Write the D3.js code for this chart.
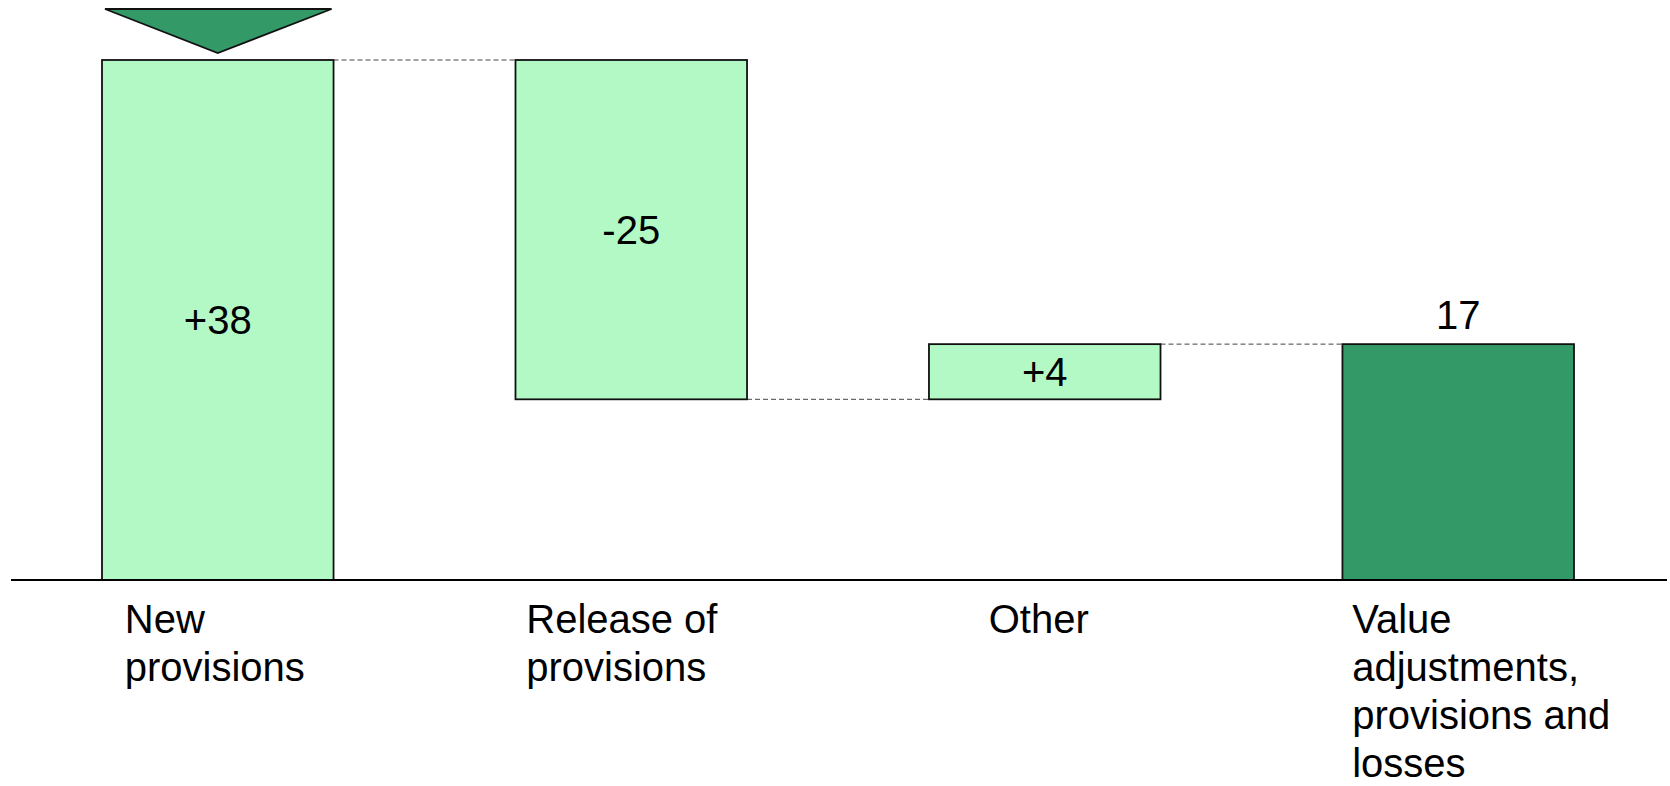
<!DOCTYPE html>
<html lang="en">
<head>
<meta charset="utf-8">
<title>Value adjustments waterfall</title>
<script src="https://d3js.org/d3.v7.min.js"></script>
<style>
body {
  margin: 0;
  background: #fff;
  font-family: "Liberation Sans", Arial, Helvetica, sans-serif;
}
</style>
</head>
<body>
<div id="chart"></div>
<script>
// data
var categories = ["New provisions", "Release of provisions", "Other", "Value adjustments, provisions and losses"];
var categoryLines = [["New", "provisions"], ["Release of", "provisions"], ["Other"], ["Value", "adjustments,", "provisions and", "losses"]];
var steps = [37.7, -24.6, 4.0];          // increments
var valueLabels = ["+38", "-25", "+4", "17"];

var lightGreen = "#b3f9c5",
    darkGreen = "#339966";

var W = 1670, H = 786;
var baseY = 580, topY = 60;

// build the waterfall rows
var rows = [], run = 0;
steps.forEach(function(v, i) {
  var start = run;
  run += v;
  rows.push({cat: categories[i], lo: Math.min(start, run), hi: Math.max(start, run), end: run, total: false, label: valueLabels[i]});
});
rows.push({cat: categories[3], lo: 0, hi: run, end: run, total: true, label: valueLabels[3]});

var svg = d3.select("#chart").append("svg")
    .attr("width", W)
    .attr("height", H);

var x = d3.scaleBand()
    .domain(categories)
    .range([102, 1574])
    .paddingInner(0.44)
    .paddingOuter(0);

var y = d3.scaleLinear()
    .domain([0, d3.max(rows, function(d) { return d.hi; })])
    .range([baseY, topY]);

var bw = x.bandwidth();

// dashed connectors between bars
for (var i = 0; i < rows.length - 1; i++) {
  svg.append("line")
    .attr("x1", x(rows[i].cat) + bw)
    .attr("x2", x(rows[i + 1].cat))
    .attr("y1", y(rows[i].end))
    .attr("y2", y(rows[i].end))
    .style("stroke", "#444")
    .style("stroke-width", 1)
    .style("stroke-dasharray", "5,3");
}

// bars
svg.selectAll("rect.bar")
  .data(rows)
  .enter()
  .append("rect")
    .attr("class", "bar")
    .attr("x", function(d) { return x(d.cat); })
    .attr("y", function(d) { return y(d.hi); })
    .attr("width", bw)
    .attr("height", function(d) { return y(d.lo) - y(d.hi); })
    .style("fill", function(d) { return d.total ? darkGreen : lightGreen; })
    .style("stroke", "#111")
    .style("stroke-width", 1.8);

// baseline
svg.append("line")
  .attr("x1", 11)
  .attr("x2", 1667)
  .attr("y1", y(0))
  .attr("y2", y(0))
  .style("stroke", "#000")
  .style("stroke-width", 2);

// marker triangle over the first bar
var x0 = x(categories[0]);
svg.append("path")
  .attr("d", "M" + (x0 + 3) + "," + (y(rows[0].hi) - 51) +
             "L" + (x0 + bw - 2) + "," + (y(rows[0].hi) - 51) +
             "L" + (x0 + bw / 2) + "," + (y(rows[0].hi) - 7) + "Z")
  .style("fill", darkGreen)
  .style("stroke", "#111")
  .style("stroke-width", 1.8)
  .style("stroke-linejoin", "miter");

// value labels
svg.selectAll("text.val")
  .data(rows)
  .enter()
  .append("text")
    .attr("class", "val")
    .attr("x", function(d) { return x(d.cat) + bw / 2; })
    .attr("y", function(d) {
      if (d.total) return y(d.hi) - 15;
      return (y(d.hi) + y(d.lo)) / 2 + 14;
    })
    .attr("text-anchor", "middle")
    .style("font-size", "40px")
    .style("fill", "#000")
    .text(function(d) { return d.label; });

// category labels (left aligned blocks under each bar)
var labelShift = [-93, -105, -56, -106];
categories.forEach(function(c, i) {
  var t = svg.append("text")
    .attr("x", x(c) + bw / 2 + labelShift[i])
    .attr("y", 633)
    .style("font-size", "40px")
    .style("fill", "#000");
  categoryLines[i].forEach(function(line, j) {
    t.append("tspan")
      .attr("x", x(c) + bw / 2 + labelShift[i])
      .attr("dy", j === 0 ? 0 : 48)
      .text(line);
  });
});
</script>
</body>
</html>
